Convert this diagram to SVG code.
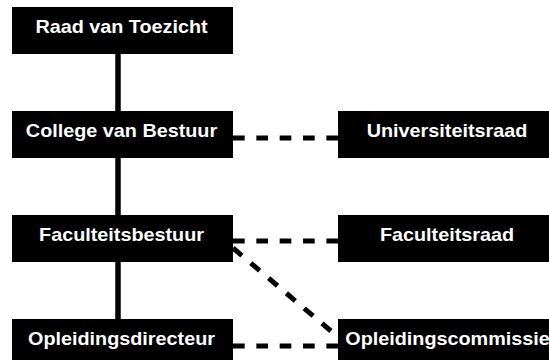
<svg xmlns="http://www.w3.org/2000/svg" width="549" height="360" viewBox="0 0 549 360">
<style>
.box{fill:#000}
.lbl{fill:#fff;font-family:"Liberation Sans",Arial,sans-serif;font-weight:bold;font-size:18px;text-anchor:middle}
.solid{stroke:#000;stroke-width:5.5;fill:none}
.dash{stroke:#000;stroke-width:5;fill:none;stroke-dasharray:11.67 11.67}
</style>
<rect width="549" height="360" fill="#fff"/>
<g id="connectors">
<line class="solid" x1="118" y1="54" x2="118" y2="111"/>
<line class="solid" x1="118" y1="158" x2="118" y2="215"/>
<line class="solid" x1="118" y1="262" x2="118" y2="319"/>
<line class="dash" x1="233" y1="138" x2="338" y2="138"/>
<line class="dash" x1="233" y1="241" x2="338" y2="241"/>
<line class="dash" x1="233" y1="346" x2="338" y2="346"/>
<line class="dash" x1="233" y1="248" x2="338" y2="337"/>
</g>
<g id="raad-van-toezicht">
<rect class="box" x="12" y="7" width="221" height="47"/>
<text class="lbl" transform="translate(121.5,33) scale(1.1,1)">Raad van Toezicht</text>
</g>
<g id="college-van-bestuur">
<rect class="box" x="12" y="111" width="221" height="47"/>
<text class="lbl" transform="translate(121.5,137) scale(1.1,1)">College van Bestuur</text>
</g>
<g id="universiteitsraad">
<rect class="box" x="338" y="111" width="221" height="47"/>
<text class="lbl" transform="translate(447,137) scale(1.1,1)">Universiteitsraad</text>
</g>
<g id="faculteitsbestuur">
<rect class="box" x="12" y="215" width="221" height="47"/>
<text class="lbl" transform="translate(121.5,241) scale(1.1,1)">Faculteitsbestuur</text>
</g>
<g id="faculteitsraad">
<rect class="box" x="338" y="215" width="221" height="47"/>
<text class="lbl" transform="translate(447,241) scale(1.1,1)">Faculteitsraad</text>
</g>
<g id="opleidingsdirecteur">
<rect class="box" x="12" y="319" width="221" height="47"/>
<text class="lbl" transform="translate(121.5,345) scale(1.1,1)">Opleidingsdirecteur</text>
</g>
<g id="opleidingscommissie">
<rect class="box" x="338" y="319" width="221" height="47"/>
<text class="lbl" transform="translate(447.5,345) scale(1.1,1)">Opleidingscommissie</text>
</g>
</svg>
